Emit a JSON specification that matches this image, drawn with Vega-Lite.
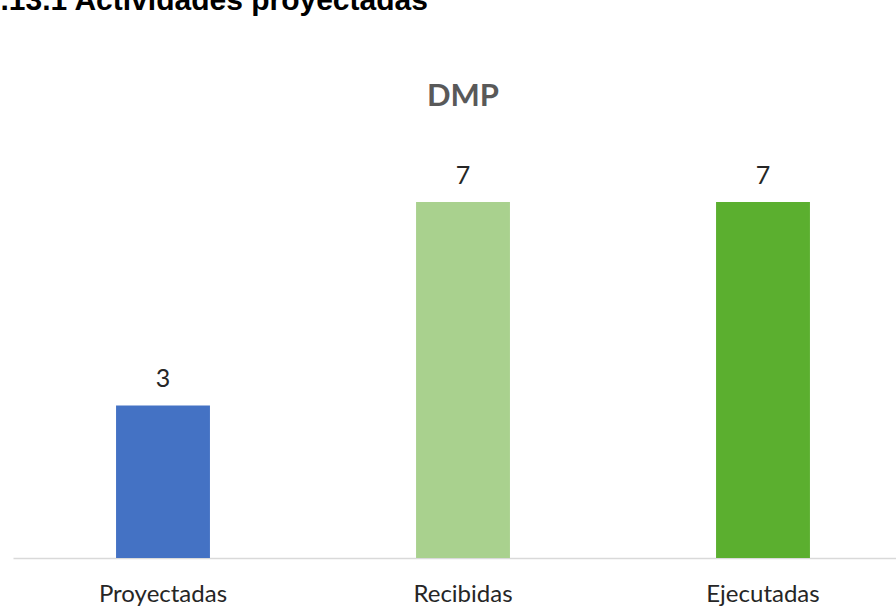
{
  "$schema": "https://vega.github.io/schema/vega-lite/v6.json",
  "autosize": {"type": "none"},
  "width": 900,
  "height": 407,
  "padding": {"left": 13, "top": 151, "right": 0, "bottom": 50},
  "background": "white",
  "title": {
    "text": "DMP",
    "anchor": "middle",
    "frame": "group",
    "font": "Lato",
    "fontSize": 31,
    "fontWeight": "bold",
    "color": "#595959",
    "baseline": "alphabetic",
    "offset": 0,
    "dy": 152
  },
  "data": {
    "values": [
      {"categoria": "Proyectadas", "valor": 3},
      {"categoria": "Recibidas", "valor": 7},
      {"categoria": "Ejecutadas", "valor": 7}
    ]
  },
  "encoding": {
    "x": {
      "field": "categoria",
      "type": "nominal",
      "sort": null,
      "scale": {"paddingInner": 0.687, "paddingOuter": 0.3435},
      "axis": {
        "title": null,
        "labelAngle": 0,
        "labelFont": "Lato",
        "labelFontSize": 24,
        "labelColor": "#262626",
        "labelPadding": 24,
        "ticks": false,
        "domainColor": "#d9d9d9",
        "domainWidth": 1.5
      }
    },
    "y": {
      "field": "valor",
      "type": "quantitative",
      "scale": {"domain": [0, 8], "nice": false},
      "axis": {
        "title": ".13.1 Actividades proyectadas",
        "titleAngle": 0,
        "titleAlign": "left",
        "titleBaseline": "alphabetic",
        "titleX": -13,
        "titleY": -142,
        "titleFont": "Liberation Sans",
        "titleFontSize": 30,
        "titleFontWeight": "bold",
        "titleColor": "#000000",
        "labels": false,
        "ticks": false,
        "domain": false,
        "grid": false
      }
    }
  },
  "layer": [
    {
      "mark": {"type": "bar"},
      "encoding": {
        "color": {
          "field": "categoria",
          "type": "nominal",
          "scale": {
            "domain": ["Proyectadas", "Recibidas", "Ejecutadas"],
            "range": ["#4472C4", "#A9D18E", "#5BAF2F"]
          },
          "legend": null
        }
      }
    },
    {
      "mark": {
        "type": "text",
        "baseline": "alphabetic",
        "dy": -18,
        "font": "Lato",
        "fontSize": 25,
        "color": "#262626"
      },
      "encoding": {
        "text": {"field": "valor", "type": "quantitative"}
      }
    }
  ],
  "config": {"view": {"stroke": null}}
}
